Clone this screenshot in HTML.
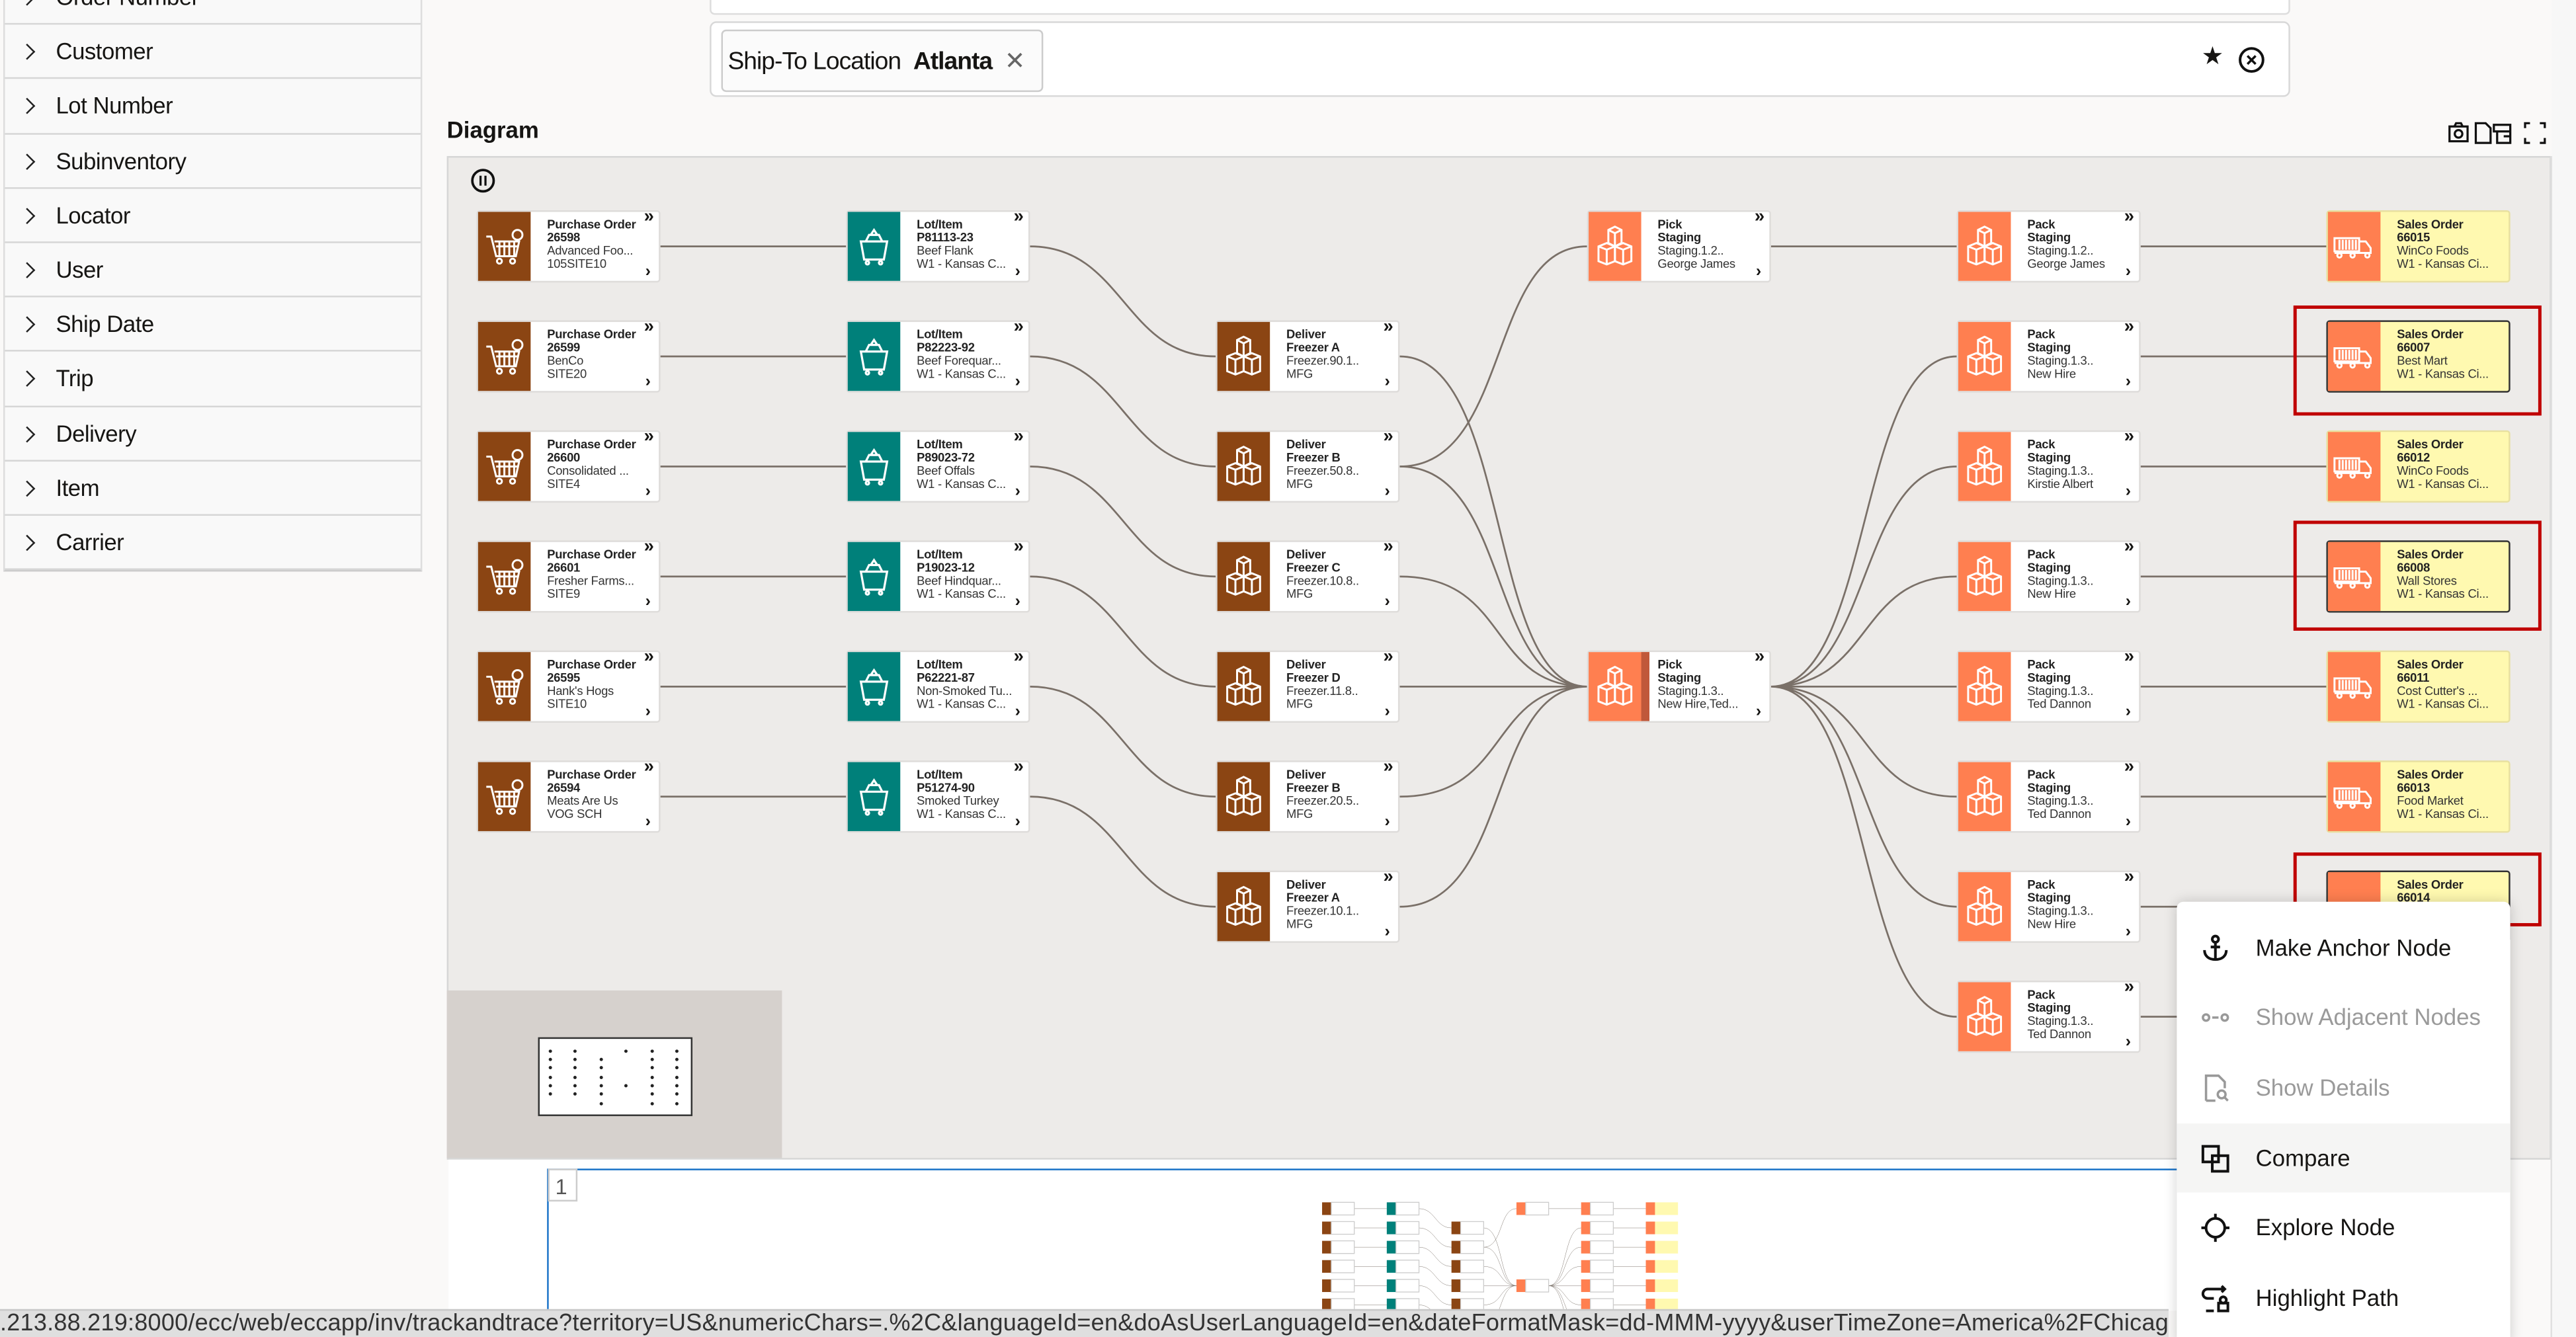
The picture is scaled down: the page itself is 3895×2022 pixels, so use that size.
<!DOCTYPE html>
<html><head><meta charset="utf-8">
<style>
*{box-sizing:border-box;margin:0;padding:0}
html,body{width:3895px;height:2021px;overflow:hidden;background:#faf9f8}
#w{position:absolute;left:0;top:0;width:1568px;height:814px;transform:scale(2.48406);transform-origin:0 0;font-family:"Liberation Sans",sans-serif;color:#161513;background:#faf9f8;overflow:hidden}
.side{position:absolute;left:2px;top:-18px;width:255px;height:366px;background:#f9f9f9;border-right:1px solid #ddd;border-left:1px solid #ddd;border-bottom:1px solid #ccc}
.side div{height:33.2px;border-bottom:1px solid #d6d6d6;font-size:14px;line-height:33px;padding-left:31px;position:relative;letter-spacing:-0.2px}
.side div:before{content:"";position:absolute;left:10px;top:13px;width:6px;height:6px;border-right:1.5px solid #222;border-top:1.5px solid #222;transform:rotate(45deg)}
.box1{position:absolute;left:432px;top:-6px;width:962px;height:15px;background:#fff;border:1px solid #ddd;border-radius:3px}
.box2{position:absolute;left:432px;top:13px;width:962px;height:46px;background:#fff;border:1px solid #d8d8d8;border-radius:4px}
.chip{position:absolute;left:6px;top:4px;width:196px;height:38px;border:1px solid #ccc;border-radius:3px;background:#fbfbfb;font-size:15px;line-height:37px;padding-left:3px;letter-spacing:-0.4px}
.dg{position:absolute;left:272px;top:71px;font-size:14px;font-weight:bold}
.canvas{position:absolute;left:272px;top:95px;width:1281px;height:611px;background:#edebe9;border:1px solid #d6d6d6;overflow:hidden}
.n{position:absolute;width:112px;height:44px;background:#fff;border:1px solid #dedcda;border-radius:2px;font-size:7.4px;line-height:7.9px;letter-spacing:-0.1px}
.n i{position:absolute;left:0;top:0;width:32px;height:42px}
.n svg.ic{position:absolute;left:3px;top:7px;width:26px;height:28px}
.n .t{position:absolute;left:42px;top:4px;white-space:nowrap;color:#333}
.n .t b{color:#222}
.n em{position:absolute;right:3px;top:0px;font-style:normal;font-size:11px;font-weight:bold}
.n u{position:absolute;right:5px;bottom:1px;text-decoration:none;font-size:10px;font-weight:bold}
.br i{background:#8b4513}.tl i{background:#00807a}.or i{background:#ff7f50}
.so{background:#fff9b0;border-color:#e8e0a0}.so i{background:#ff7f50}
.sel{border:1px solid #333}
.red{position:absolute;border:2.5px solid #c00000}
.menu{position:absolute;left:1325px;top:549px;width:203px;height:270px;background:#fff;box-shadow:0 0 8px rgba(0,0,0,.18);border-radius:4px}
.menu div{position:absolute;left:0;width:203px;height:42px;font-size:14px;line-height:42px;padding-left:48px}
.menu svg{position:absolute;left:14px;top:12px;width:19px;height:19px}
.g{color:#9a9a9a}
.url{position:absolute;left:0;top:797px;width:1320px;height:17px;background:#dfdfdf;border-top:1px solid #c8c8c8;font-size:14.5px;line-height:17px;white-space:nowrap;overflow:hidden;color:#333;letter-spacing:0.1px}
</style></head><body><div id="w">

<div class="side">
<div>Order Number</div><div>Customer</div><div>Lot Number</div><div>Subinventory</div><div>Locator</div><div>User</div><div>Ship Date</div><div>Trip</div><div>Delivery</div><div>Item</div><div>Carrier</div>
</div>

<div class="box1"></div>
<div class="box2"><div class="chip">Ship-To Location&nbsp; <b>Atlanta</b>&nbsp; <span style="color:#666;font-size:15px">✕</span></div>
<span style="position:absolute;left:907px;top:11px;font-size:15px">★</span>
<svg style="position:absolute;left:929px;top:14px" width="17" height="17"><circle cx="8.5" cy="8.5" r="7" fill="none" stroke="#111" stroke-width="1.6"/><path d="M6 6l5 5M11 6l-5 5" stroke="#111" stroke-width="1.4"/></svg>
</div>

<div class="dg">Diagram</div>
<svg style="position:absolute;left:1490px;top:73px" width="62" height="16" fill="none" stroke="#111" stroke-width="1.3"><rect x="1" y="4" width="11" height="9"/><circle cx="6.5" cy="8.5" r="2.3"/><path d="M4 4l1-2h3l1 2"/><path d="M17 2h6l3 3v9h-9z"/><path d="M28 3h10v4H28zM30 7v7h8v-7M34 10h4"/><path d="M47 5V2h3M56 2h3v3M59 11v3h-3M50 14h-3v-3"/></svg>

<div class="canvas"></div>
<svg style="position:absolute;left:286px;top:102px" width="17" height="17"><circle cx="8" cy="8" r="6.5" fill="none" stroke="#111" stroke-width="1.5"/><path d="M6.5 5v6M9.5 5v6" stroke="#111" stroke-width="1.3"/></svg>

<svg style="position:absolute;left:0;top:0" width="1568" height="814">
<defs>
<symbol id="cart" viewBox="0 0 26 28"><g fill="none" stroke="#fff" stroke-width="1.2"><path d="M2 8h3l3 12h12l2-9H7"/><path d="M8 14h13M10 11v9M13 11v9M16 11v9M19 11v9"/><circle cx="10" cy="23" r="1.5"/><circle cx="18" cy="23" r="1.5"/><circle cx="21" cy="7" r="3"/></g></symbol>
<symbol id="bin" viewBox="0 0 26 28"><g fill="none" stroke="#fff" stroke-width="1.3"><path d="M5 11h16l-2 11H7z"/><path d="M8 11l2-4h6l2 4M11 7l2-3 2 3"/><circle cx="9" cy="24" r="1"/><circle cx="17" cy="24" r="1"/></g></symbol>
<symbol id="boxes" viewBox="0 0 26 28"><g fill="none" stroke="#fff" stroke-width="1.2"><path d="M9 4l4-2 4 2v8l-4 2-4-2z"/><path d="M9 4l4 2 4-2M13 6v8"/><path d="M3 14l5-2 5 2v9l-5 2-5-2zM3 14l5 2 5-2M8 16v9"/><path d="M13 14l5-2 5 2v9l-5 2-5-2zM13 14l5 2 5-2M18 16v9"/></g></symbol>
<symbol id="truck" viewBox="0 0 26 28"><g fill="none" stroke="#fff" stroke-width="1.2"><rect x="1" y="9" width="15" height="8"/><path d="M4 10v6M6 10v6M8 10v6M10 10v6M12 10v6M14 10v6"/><path d="M16 11h4l3 4v3H1"/><circle cx="4" cy="19.5" r="1.3"/><circle cx="12" cy="19.5" r="1.3"/><circle cx="21" cy="19.5" r="1.3"/></g></symbol>
<clipPath id="cv"><rect x="273" y="96" width="1279" height="609"/></clipPath>
</defs>
<g id="edges" fill="none" stroke="#7a7068" stroke-width="1.1" clip-path="url(#cv)">
<path d="M402 150H515M402 217H515M402 284H515M402 351H515M402 418H515M402 485H515"/>
<path d="M627 150C684 150 684 217 740 217M627 217C684 217 684 284 740 284M627 284C684 284 684 351 740 351M627 351C684 351 684 418 740 418M627 418C684 418 684 485 740 485M627 485C684 485 684 552 740 552"/>
<path d="M852 217C920 217 905 418 966 418M852 284C920 284 905 418 966 418M852 351C920 351 905 418 966 418M852 418H966M852 485C920 485 905 418 966 418M852 552C920 552 905 418 966 418"/>
<path d="M852 284C920 284 905 150 966 150"/>
<path d="M1078 150H1191"/>
<path d="M1078 418C1140 418 1130 217 1191 217M1078 418C1140 418 1130 284 1191 284M1078 418C1140 418 1130 351 1191 351M1078 418H1191M1078 418C1140 418 1130 485 1191 485M1078 418C1140 418 1130 552 1191 552M1078 418C1140 418 1130 619 1191 619"/>
<path d="M1303 150H1416M1303 217H1416M1303 284H1416M1303 351H1416M1303 418H1416M1303 485H1416M1303 552H1416M1303 619H1416"/>
</g>
<rect x="272" y="603" width="204" height="102" fill="#d6d1cd"/>
<rect x="328" y="632" width="93" height="47" fill="#fff" stroke="#333" stroke-width="1"/>
<g fill="#222"><circle cx="335" cy="640" r="1"/><circle cx="335" cy="645" r="1"/><circle cx="335" cy="650" r="1"/><circle cx="335" cy="656" r="1"/><circle cx="335" cy="661" r="1"/><circle cx="335" cy="666" r="1"/><circle cx="350" cy="640" r="1"/><circle cx="350" cy="645" r="1"/><circle cx="350" cy="650" r="1"/><circle cx="350" cy="656" r="1"/><circle cx="350" cy="661" r="1"/><circle cx="350" cy="666" r="1"/><circle cx="366" cy="645" r="1"/><circle cx="366" cy="650" r="1"/><circle cx="366" cy="656" r="1"/><circle cx="366" cy="661" r="1"/><circle cx="366" cy="666" r="1"/><circle cx="366" cy="672" r="1"/><circle cx="381" cy="640" r="1"/><circle cx="381" cy="661" r="1"/><circle cx="397" cy="640" r="1"/><circle cx="397" cy="645" r="1"/><circle cx="397" cy="650" r="1"/><circle cx="397" cy="656" r="1"/><circle cx="397" cy="661" r="1"/><circle cx="397" cy="666" r="1"/><circle cx="397" cy="672" r="1"/><circle cx="412" cy="640" r="1"/><circle cx="412" cy="645" r="1"/><circle cx="412" cy="650" r="1"/><circle cx="412" cy="656" r="1"/><circle cx="412" cy="661" r="1"/><circle cx="412" cy="666" r="1"/><circle cx="412" cy="672" r="1"/></g>
<rect x="273" y="706" width="1052" height="92" fill="#fff"/>
<path d="M333.5 798V712h992" fill="none" stroke="#1a73c8" stroke-width="1"/>
<rect x="334" y="712" width="17" height="19" fill="#fff" stroke="#ccc"/>
<text x="338" y="727" font-size="13" fill="#555" font-family="Liberation Sans">1</text>
<g transform="translate(754,709.6) scale(0.175)">
<use href="#edges"/>
<g fill="#ff7f50">
<rect x="290" y="128" width="32" height="44" fill="#8b4513"/><rect x="290" y="195" width="32" height="44" fill="#8b4513"/><rect x="290" y="262" width="32" height="44" fill="#8b4513"/><rect x="290" y="329" width="32" height="44" fill="#8b4513"/><rect x="290" y="396" width="32" height="44" fill="#8b4513"/><rect x="290" y="463" width="32" height="44" fill="#8b4513"/>
<rect x="515" y="128" width="32" height="44" fill="#00807a"/><rect x="515" y="195" width="32" height="44" fill="#00807a"/><rect x="515" y="262" width="32" height="44" fill="#00807a"/><rect x="515" y="329" width="32" height="44" fill="#00807a"/><rect x="515" y="396" width="32" height="44" fill="#00807a"/><rect x="515" y="463" width="32" height="44" fill="#00807a"/>
<rect x="740" y="195" width="32" height="44" fill="#8b4513"/><rect x="740" y="262" width="32" height="44" fill="#8b4513"/><rect x="740" y="329" width="32" height="44" fill="#8b4513"/><rect x="740" y="396" width="32" height="44" fill="#8b4513"/><rect x="740" y="463" width="32" height="44" fill="#8b4513"/><rect x="740" y="530" width="32" height="44" fill="#8b4513"/>
<rect x="966" y="128" width="32" height="44"/><rect x="966" y="396" width="32" height="44"/>
<rect x="1191" y="128" width="32" height="44"/><rect x="1191" y="195" width="32" height="44"/><rect x="1191" y="262" width="32" height="44"/><rect x="1191" y="329" width="32" height="44"/><rect x="1191" y="396" width="32" height="44"/><rect x="1191" y="463" width="32" height="44"/><rect x="1191" y="530" width="32" height="44"/><rect x="1191" y="597" width="32" height="44"/>
<rect x="1416" y="128" width="32" height="44"/><rect x="1416" y="195" width="32" height="44"/><rect x="1416" y="262" width="32" height="44"/><rect x="1416" y="329" width="32" height="44"/><rect x="1416" y="396" width="32" height="44"/><rect x="1416" y="463" width="32" height="44"/>
</g>
<g fill="#fff" stroke="#ccc" stroke-width="3"><rect x="322" y="128" width="80" height="44"/><rect x="322" y="195" width="80" height="44"/><rect x="322" y="262" width="80" height="44"/><rect x="322" y="329" width="80" height="44"/><rect x="322" y="396" width="80" height="44"/><rect x="322" y="463" width="80" height="44"/>
<rect x="547" y="128" width="80" height="44"/><rect x="547" y="195" width="80" height="44"/><rect x="547" y="262" width="80" height="44"/><rect x="547" y="329" width="80" height="44"/><rect x="547" y="396" width="80" height="44"/><rect x="547" y="463" width="80" height="44"/>
<rect x="772" y="195" width="80" height="44"/><rect x="772" y="262" width="80" height="44"/><rect x="772" y="329" width="80" height="44"/><rect x="772" y="396" width="80" height="44"/><rect x="772" y="463" width="80" height="44"/><rect x="772" y="530" width="80" height="44"/>
<rect x="998" y="128" width="80" height="44"/><rect x="998" y="396" width="80" height="44"/>
<rect x="1223" y="128" width="80" height="44"/><rect x="1223" y="195" width="80" height="44"/><rect x="1223" y="262" width="80" height="44"/><rect x="1223" y="329" width="80" height="44"/><rect x="1223" y="396" width="80" height="44"/><rect x="1223" y="463" width="80" height="44"/><rect x="1223" y="530" width="80" height="44"/><rect x="1223" y="597" width="80" height="44"/></g>
<g fill="#fff9b0"><rect x="1448" y="128" width="80" height="44"/><rect x="1448" y="195" width="80" height="44"/><rect x="1448" y="262" width="80" height="44"/><rect x="1448" y="329" width="80" height="44"/><rect x="1448" y="396" width="80" height="44"/><rect x="1448" y="463" width="80" height="44"/></g>
</g>
<rect x="1553" y="0" width="15" height="814" fill="#f7f7f7"/>
<line x1="1553" y1="95" x2="1553" y2="814" stroke="#e0e0e0"/>
</svg>

<div class="n br" style="left:290px;top:128px"><i></i><svg class="ic"><use href="#cart"/></svg><div class="t"><b>Purchase Order<br>26598</b><br>Advanced Foo...<br>105SITE10</div><em>»</em><u>›</u></div>
<div class="n br" style="left:290px;top:195px"><i></i><svg class="ic"><use href="#cart"/></svg><div class="t"><b>Purchase Order<br>26599</b><br>BenCo<br>SITE20</div><em>»</em><u>›</u></div>
<div class="n br" style="left:290px;top:262px"><i></i><svg class="ic"><use href="#cart"/></svg><div class="t"><b>Purchase Order<br>26600</b><br>Consolidated ...<br>SITE4</div><em>»</em><u>›</u></div>
<div class="n br" style="left:290px;top:329px"><i></i><svg class="ic"><use href="#cart"/></svg><div class="t"><b>Purchase Order<br>26601</b><br>Fresher Farms...<br>SITE9</div><em>»</em><u>›</u></div>
<div class="n br" style="left:290px;top:396px"><i></i><svg class="ic"><use href="#cart"/></svg><div class="t"><b>Purchase Order<br>26595</b><br>Hank's Hogs<br>SITE10</div><em>»</em><u>›</u></div>
<div class="n br" style="left:290px;top:463px"><i></i><svg class="ic"><use href="#cart"/></svg><div class="t"><b>Purchase Order<br>26594</b><br>Meats Are Us<br>VOG SCH</div><em>»</em><u>›</u></div>
<div class="n tl" style="left:515px;top:128px"><i></i><svg class="ic"><use href="#bin"/></svg><div class="t"><b>Lot/Item<br>P81113-23</b><br>Beef Flank<br>W1 - Kansas C...</div><em>»</em><u>›</u></div>
<div class="n tl" style="left:515px;top:195px"><i></i><svg class="ic"><use href="#bin"/></svg><div class="t"><b>Lot/Item<br>P82223-92</b><br>Beef Forequar...<br>W1 - Kansas C...</div><em>»</em><u>›</u></div>
<div class="n tl" style="left:515px;top:262px"><i></i><svg class="ic"><use href="#bin"/></svg><div class="t"><b>Lot/Item<br>P89023-72</b><br>Beef Offals<br>W1 - Kansas C...</div><em>»</em><u>›</u></div>
<div class="n tl" style="left:515px;top:329px"><i></i><svg class="ic"><use href="#bin"/></svg><div class="t"><b>Lot/Item<br>P19023-12</b><br>Beef Hindquar...<br>W1 - Kansas C...</div><em>»</em><u>›</u></div>
<div class="n tl" style="left:515px;top:396px"><i></i><svg class="ic"><use href="#bin"/></svg><div class="t"><b>Lot/Item<br>P62221-87</b><br>Non-Smoked Tu...<br>W1 - Kansas C...</div><em>»</em><u>›</u></div>
<div class="n tl" style="left:515px;top:463px"><i></i><svg class="ic"><use href="#bin"/></svg><div class="t"><b>Lot/Item<br>P51274-90</b><br>Smoked Turkey<br>W1 - Kansas C...</div><em>»</em><u>›</u></div>
<div class="n br" style="left:740px;top:195px"><i></i><svg class="ic"><use href="#boxes"/></svg><div class="t"><b>Deliver<br>Freezer A</b><br>Freezer.90.1..<br>MFG</div><em>»</em><u>›</u></div>
<div class="n br" style="left:740px;top:262px"><i></i><svg class="ic"><use href="#boxes"/></svg><div class="t"><b>Deliver<br>Freezer B</b><br>Freezer.50.8..<br>MFG</div><em>»</em><u>›</u></div>
<div class="n br" style="left:740px;top:329px"><i></i><svg class="ic"><use href="#boxes"/></svg><div class="t"><b>Deliver<br>Freezer C</b><br>Freezer.10.8..<br>MFG</div><em>»</em><u>›</u></div>
<div class="n br" style="left:740px;top:396px"><i></i><svg class="ic"><use href="#boxes"/></svg><div class="t"><b>Deliver<br>Freezer D</b><br>Freezer.11.8..<br>MFG</div><em>»</em><u>›</u></div>
<div class="n br" style="left:740px;top:463px"><i></i><svg class="ic"><use href="#boxes"/></svg><div class="t"><b>Deliver<br>Freezer B</b><br>Freezer.20.5..<br>MFG</div><em>»</em><u>›</u></div>
<div class="n br" style="left:740px;top:530px"><i></i><svg class="ic"><use href="#boxes"/></svg><div class="t"><b>Deliver<br>Freezer A</b><br>Freezer.10.1..<br>MFG</div><em>»</em><u>›</u></div>
<div class="n or" style="left:966px;top:128px"><i></i><svg class="ic"><use href="#boxes"/></svg><div class="t"><b>Pick<br>Staging</b><br>Staging.1.2..<br>George James</div><em>»</em><u>›</u></div>
<div class="n or" style="left:966px;top:396px"><i style="width:37px;border-right:5px solid #c0583a"></i><svg class="ic"><use href="#boxes"/></svg><div class="t"><b>Pick<br>Staging</b><br>Staging.1.3..<br>New Hire,Ted...</div><em>»</em><u>›</u></div>
<div class="n or" style="left:1191px;top:128px"><i></i><svg class="ic"><use href="#boxes"/></svg><div class="t"><b>Pack<br>Staging</b><br>Staging.1.2..<br>George James</div><em>»</em><u>›</u></div>
<div class="n or" style="left:1191px;top:195px"><i></i><svg class="ic"><use href="#boxes"/></svg><div class="t"><b>Pack<br>Staging</b><br>Staging.1.3..<br>New Hire</div><em>»</em><u>›</u></div>
<div class="n or" style="left:1191px;top:262px"><i></i><svg class="ic"><use href="#boxes"/></svg><div class="t"><b>Pack<br>Staging</b><br>Staging.1.3..<br>Kirstie Albert</div><em>»</em><u>›</u></div>
<div class="n or" style="left:1191px;top:329px"><i></i><svg class="ic"><use href="#boxes"/></svg><div class="t"><b>Pack<br>Staging</b><br>Staging.1.3..<br>New Hire</div><em>»</em><u>›</u></div>
<div class="n or" style="left:1191px;top:396px"><i></i><svg class="ic"><use href="#boxes"/></svg><div class="t"><b>Pack<br>Staging</b><br>Staging.1.3..<br>Ted Dannon</div><em>»</em><u>›</u></div>
<div class="n or" style="left:1191px;top:463px"><i></i><svg class="ic"><use href="#boxes"/></svg><div class="t"><b>Pack<br>Staging</b><br>Staging.1.3..<br>Ted Dannon</div><em>»</em><u>›</u></div>
<div class="n or" style="left:1191px;top:530px"><i></i><svg class="ic"><use href="#boxes"/></svg><div class="t"><b>Pack<br>Staging</b><br>Staging.1.3..<br>New Hire</div><em>»</em><u>›</u></div>
<div class="n or" style="left:1191px;top:597px"><i></i><svg class="ic"><use href="#boxes"/></svg><div class="t"><b>Pack<br>Staging</b><br>Staging.1.3..<br>Ted Dannon</div><em>»</em><u>›</u></div>
<div class="n so" style="left:1416px;top:128px"><i></i><svg class="ic"><use href="#truck"/></svg><div class="t"><b>Sales Order<br>66015</b><br>WinCo Foods<br>W1 - Kansas Ci...</div></div>
<div class="n so sel" style="left:1416px;top:195px"><i></i><svg class="ic"><use href="#truck"/></svg><div class="t"><b>Sales Order<br>66007</b><br>Best Mart<br>W1 - Kansas Ci...</div></div>
<div class="n so" style="left:1416px;top:262px"><i></i><svg class="ic"><use href="#truck"/></svg><div class="t"><b>Sales Order<br>66012</b><br>WinCo Foods<br>W1 - Kansas Ci...</div></div>
<div class="n so sel" style="left:1416px;top:329px"><i></i><svg class="ic"><use href="#truck"/></svg><div class="t"><b>Sales Order<br>66008</b><br>Wall Stores<br>W1 - Kansas Ci...</div></div>
<div class="n so" style="left:1416px;top:396px"><i></i><svg class="ic"><use href="#truck"/></svg><div class="t"><b>Sales Order<br>66011</b><br>Cost Cutter's ...<br>W1 - Kansas Ci...</div></div>
<div class="n so" style="left:1416px;top:463px"><i></i><svg class="ic"><use href="#truck"/></svg><div class="t"><b>Sales Order<br>66013</b><br>Food Market<br>W1 - Kansas Ci...</div></div>
<div class="n so sel" style="left:1416px;top:530px"><i></i><div class="t"><b>Sales Order<br>66014</b></div></div>
<div class="n so" style="left:1416px;top:597px"><i></i></div>

<div class="red" style="left:1396px;top:186px;width:151px;height:67px"></div>
<div class="red" style="left:1396px;top:317px;width:151px;height:67px"></div>
<div class="red" style="left:1396px;top:519px;width:151px;height:45px"></div>

<div class="menu">
<div style="top:7px"><svg viewBox="0 0 20 20" fill="none" stroke="#111" stroke-width="1.7"><circle cx="10" cy="4" r="2"/><path d="M10 6v11M3 11c0 4 3 6 7 6s7-2 7-6M7 9h6"/></svg>Make Anchor Node</div>
<div class="g" style="top:49px"><svg viewBox="0 0 20 20" fill="none" stroke="#999" stroke-width="1.5"><circle cx="4" cy="10" r="2"/><circle cx="16" cy="10" r="2"/><path d="M8 10h4"/></svg>Show Adjacent Nodes</div>
<div class="g" style="top:92px"><svg viewBox="0 0 20 20" fill="none" stroke="#999" stroke-width="1.5"><path d="M4 18V2h8l4 4v4M4 18h6"/><circle cx="14" cy="14" r="2.5"/><path d="M16 16l2 2"/></svg>Show Details</div>
<div style="top:135px;background:#f5f5f4"><svg viewBox="0 0 20 20" fill="none" stroke="#111" stroke-width="1.7"><rect x="2" y="2" width="10" height="10"/><rect x="8" y="8" width="10" height="10"/></svg>Compare</div>
<div style="top:177px"><svg viewBox="0 0 20 20" fill="none" stroke="#111" stroke-width="1.7"><circle cx="10" cy="10" r="6"/><path d="M10 1v3M10 16v3M1 10h3M16 10h3"/></svg>Explore Node</div>
<div style="top:220px"><svg viewBox="0 0 20 20" fill="none" stroke="#111" stroke-width="1.7"><path d="M16 4H5a3 3 0 000 6h4M14 2l2 2-2 2M4 18h5"/><rect x="12" y="13" width="6" height="5"/><circle cx="15" cy="11" r="2"/></svg>Highlight Path</div>
</div>

<div class="url">.213.88.219:8000/ecc/web/eccapp/inv/trackandtrace?territory=US&amp;numericChars=.%2C&amp;languageId=en&amp;doAsUserLanguageId=en&amp;dateFormatMask=dd-MMM-yyyy&amp;userTimeZone=America%2FChicago#</div>
</div></body></html>
